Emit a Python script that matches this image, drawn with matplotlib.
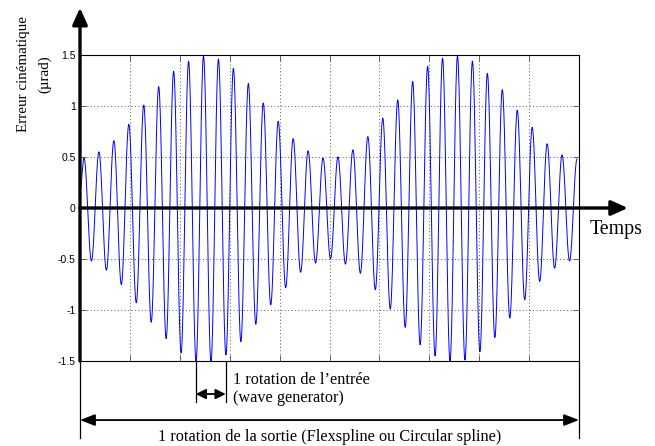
import numpy as np
import matplotlib
matplotlib.use("Agg")
import matplotlib.pyplot as plt

# ---------------- data ----------------
start_value = 0.17
peak_values = [0.49, 0.55, 0.66, 0.82, 1.01, 1.19, 1.34, 1.44, 1.49, 1.46,
               1.37, 1.22, 1.03, 0.85, 0.68, 0.56, 0.49, 0.50, 0.57, 0.70,
               0.88, 1.06, 1.24, 1.39, 1.47, 1.49, 1.44, 1.32, 1.16, 0.96,
               0.79, 0.63, 0.52, 0.48]
trough_values = [-0.52, -0.61, -0.75, -0.93, -1.12, -1.28, -1.42, -1.50, -1.51, -1.44,
                 -1.31, -1.14, -0.95, -0.78, -0.63, -0.54, -0.50, -0.55, -0.64, -0.80,
                 -0.99, -1.17, -1.34, -1.45, -1.50, -1.49, -1.41, -1.27, -1.08, -0.90,
                 -0.72, -0.59, -0.52]
first_peak_time = 0.08
cycle_period = 0.2994
yticks = [-1.5, -1, -0.5, 0, 0.5, 1, 1.5]
ytick_labels = ['-1.5', '-1', '-0.5', '0', '0.5', '1', '1.5']
xticks = list(range(0, 11))
input_rotation = (2.32, 2.92)
output_rotation = (0.0, 10.0)
ylabel_text = 'Erreur cinématique\n(µrad)'
xlabel_text = 'Temps'
input_text = '1 rotation de l’entrée\n(wave generator)'
output_text = '1 rotation de la sortie (Flexspline ou Circular spline)'

# ---------------- build the curve through the extrema ----------------
times = [0.0]
vals = [start_value]
for i, p in enumerate(peak_values):
    times.append(first_peak_time + i * cycle_period)
    vals.append(p)
    if i < len(trough_values):
        times.append(first_peak_time + (i + 0.5) * cycle_period)
        vals.append(trough_values[i])
t_all, y_all = [], []
for k in range(len(times) - 1):
    s = np.linspace(0, 1, 24, endpoint=False)
    w = (1 - np.cos(np.pi * s)) / 2
    t_all.append(times[k] + (times[k + 1] - times[k]) * s)
    y_all.append(vals[k] + (vals[k + 1] - vals[k]) * w)
t_all.append([times[-1]])
y_all.append([vals[-1]])
t_all = np.concatenate(t_all)
y_all = np.concatenate(y_all)

# ---------------- figure ----------------
W, H = 655, 446
fig = plt.figure(figsize=(W / 100, H / 100), dpi=100)
ax = fig.add_axes([80 / W, 85 / H, 499 / W, 306 / H])

serif = ['Liberation Serif', 'DejaVu Serif']
sans = ['Liberation Sans', 'DejaVu Sans']

ax.plot(t_all, y_all, color='#0000ff', lw=0.7, zorder=3)
ax.set_xlim(output_rotation)
ax.set_ylim(-1.5, 1.5)
ax.set_xticks(xticks)
ax.set_yticks(yticks)
ax.set_yticklabels(ytick_labels, family=sans, fontsize=7.5)
ax.tick_params(direction='in', length=4, width=0.6, top=True, right=True,
               labelbottom=False, pad=3, color='0.3')
ax.grid(True, linestyle=(0, (1, 2.5)), color='0.35', lw=0.7)
for side in ['top', 'right', 'bottom']:
    ax.spines[side].set_linewidth(0.8)
ax.spines['left'].set_visible(False)

# thick axes with arrows
head = dict(lw=2.4, color='black', shrinkA=0, shrinkB=0, mutation_scale=10,
            arrowstyle='-|>,head_length=1.0,head_width=0.45')
ax.annotate('', xy=(1.098, 0), xytext=(0, 0),
            xycoords=('axes fraction', 'data'), textcoords=('axes fraction', 'data'),
            arrowprops=head, annotation_clip=False, zorder=5)
ax.annotate('', xy=(0, 1.154), xytext=(0, 0),
            xycoords='axes fraction', textcoords='axes fraction',
            arrowprops=head, annotation_clip=False, zorder=5)

# labels
fig.text(34 / W, 1 - 74 / H, ylabel_text, rotation=90, ha='center', va='center',
         multialignment='center', fontsize=10.8, family=serif, linespacing=1.8)
fig.text(616 / W, 1 - 229 / H, xlabel_text, ha='center', va='center',
         fontsize=14.3, family=serif)

# bottom annotations
tr = ax.get_xaxis_transform()
for x in input_rotation:
    ax.plot([x, x], [0, -0.134], transform=tr, color='black', lw=0.9, clip_on=False)
for x in output_rotation:
    ax.plot([x, x], [0, -0.252], transform=tr, color='black', lw=0.9, clip_on=False)

small = dict(lw=1.3, color='black', shrinkA=0, shrinkB=0, mutation_scale=10,
             arrowstyle='<|-|>,head_length=0.6,head_width=0.3')
ax.annotate('', xy=(input_rotation[1], -0.108), xytext=(input_rotation[0], -0.108),
            xycoords=tr, textcoords=tr, arrowprops=small, annotation_clip=False)
big = dict(lw=1.3, color='black', shrinkA=0, shrinkB=0, mutation_scale=10,
           arrowstyle='<|-|>,head_length=0.9,head_width=0.35')
ax.annotate('', xy=(output_rotation[1], -0.193), xytext=(output_rotation[0], -0.193),
            xycoords=tr, textcoords=tr, arrowprops=big, annotation_clip=False)

ax.text(3.06, -0.0915, input_text, transform=tr, ha='left', va='center',
        fontsize=11.7, family=serif, linespacing=1.18, clip_on=False)
ax.text(5.0, -0.248, output_text, transform=tr, ha='center', va='center',
        fontsize=11.7, family=serif, clip_on=False)

fig.savefig('out.png', dpi=100)
